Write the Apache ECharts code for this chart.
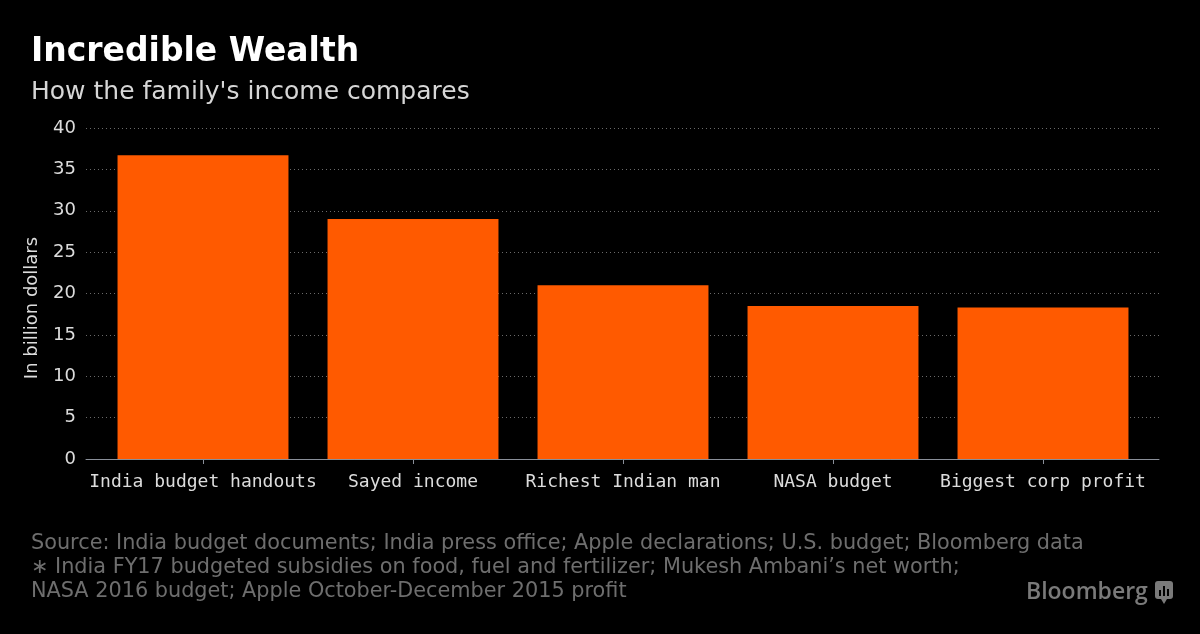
<!DOCTYPE html>
<html>
<head>
<meta charset="utf-8">
<script src="https://cdn.jsdelivr.net/npm/echarts@6/dist/echarts.min.js"></script>
<style>
html,body{margin:0;padding:0;background:#000;}
#chart{width:1200px;height:634px;}
</style>
</head>
<body>
<div id="chart"></div>
<script>
const categories = ['India budget handouts', 'Sayed income', 'Richest Indian man', 'NASA budget', 'Biggest corp profit'];
const values = [36.7, 29.0, 21.0, 18.5, 18.3];
const yTicks = { min: 0, max: 40, interval: 5 };
const titleText = 'Incredible Wealth';
const subtitleText = "How the family's income compares";
const axisName = 'In billion dollars';
const footerLines = [
  'Source: India budget documents; India press office; Apple declarations; U.S. budget; Bloomberg data',
  '\u2217 India FY17 budgeted subsidies on food, fuel and fertilizer; Mukesh Ambani\u2019s net worth;',
  'NASA 2016 budget; Apple October-December 2015 profit'
];

const chart = echarts.init(document.getElementById('chart'));
const footerGraphics = footerLines.map((t, i) => ({
  type: 'text', left: 31, top: 533 + i * 24,
  style: { text: t, fill: '#6e6e6e', font: '20.8px "DejaVu Sans"' }
}));

chart.setOption({
  backgroundColor: '#000',
  animation: false,
  grid: [
    { left: 86, right: 41, top: 128, bottom: 175 },
    { left: 98, right: 52, top: 128, bottom: 175 }
  ],
  xAxis: [
    {
      gridIndex: 0, type: 'value', min: 0, max: 1,
      axisLine: { show: true, onZero: false, lineStyle: { color: '#8a8f99', width: 1 } },
      axisTick: { show: false }, axisLabel: { show: false }, splitLine: { show: false }
    },
    {
      gridIndex: 1, type: 'category', data: categories,
      axisLine: { show: false },
      axisTick: { show: true, alignWithLabel: true, length: 5, lineStyle: { color: '#8a8f99' } },
      axisLabel: { color: '#dcdcdc', fontFamily: 'DejaVu Sans Mono', fontSize: 18, margin: 14, interval: 0 }
    }
  ],
  yAxis: [
    {
      gridIndex: 0, type: 'value',
      min: yTicks.min, max: yTicks.max, interval: yTicks.interval,
      axisLine: { show: false }, axisTick: { show: false },
      axisLabel: { color: '#dcdcdc', fontFamily: 'DejaVu Sans', fontSize: 18, margin: 10 },
      splitLine: { lineStyle: { color: '#6a6a6a', type: [1, 3], width: 1 } }
    },
    {
      gridIndex: 1, type: 'value',
      min: yTicks.min, max: yTicks.max, interval: yTicks.interval,
      show: false
    }
  ],
  series: [{
    type: 'bar',
    xAxisIndex: 1, yAxisIndex: 1,
    data: values,
    barCategoryGap: '18.6%',
    itemStyle: { color: '#ff5a00' }
  }],
  graphic: [
    { type: 'text', left: 31, top: 36,
      style: { text: titleText, fill: '#ffffff', font: 'bold 33px "DejaVu Sans"' } },
    { type: 'text', left: 31, top: 80,
      style: { text: subtitleText, fill: '#d6d6d6', font: '25px "DejaVu Sans"' } },
    { type: 'text', x: 32, y: 308, rotation: Math.PI / 2,
      style: { text: axisName, fill: '#dcdcdc', font: '18px "DejaVu Sans"', align: 'center', verticalAlign: 'middle' } },
    ...footerGraphics,
    { type: 'text', left: 1026, top: 581,
      style: { text: 'Bloomberg', fill: '#7a7a7a', font: '600 23px "Open Sans"' } },
    { type: 'group', left: 1155, top: 581, children: [
      { type: 'rect', shape: { x: 0, y: 0, width: 18, height: 18, r: 3 }, style: { fill: '#7a7a7a' } },
      { type: 'polygon', shape: { points: [[6, 18], [12, 18], [9, 23]] }, style: { fill: '#7a7a7a' } },
      { type: 'rect', shape: { x: 4, y: 9, width: 2, height: 6 }, style: { fill: '#000' } },
      { type: 'rect', shape: { x: 8, y: 5, width: 2, height: 10 }, style: { fill: '#000' } },
      { type: 'rect', shape: { x: 12, y: 8, width: 2, height: 7 }, style: { fill: '#000' } }
    ] }
  ]
});
</script>
</body>
</html>
